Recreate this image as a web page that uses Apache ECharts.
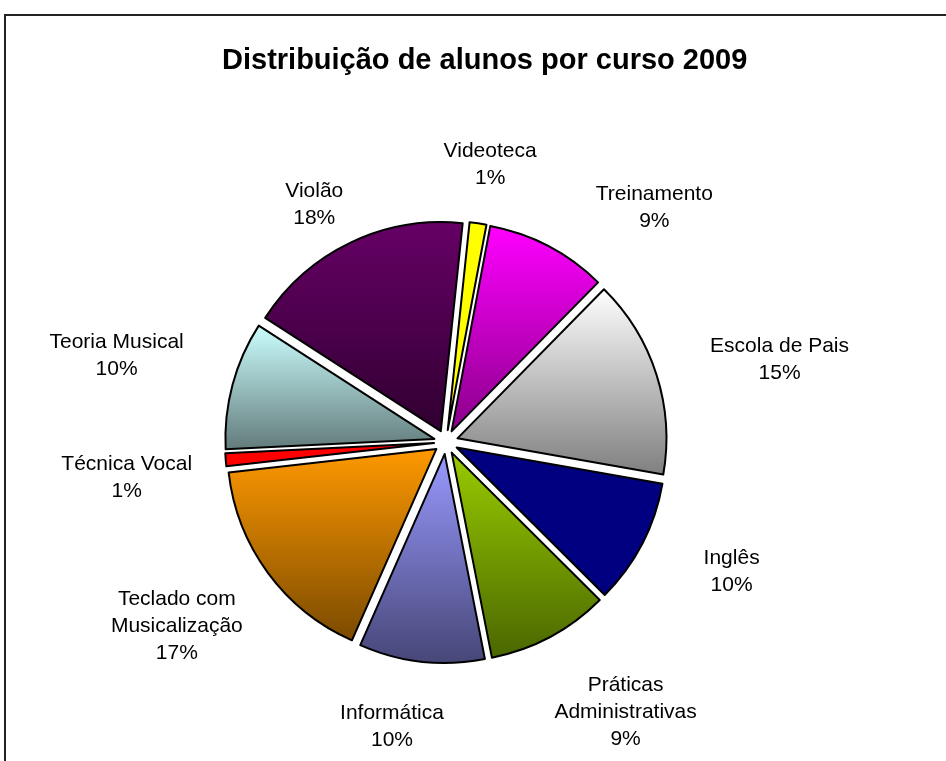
<!DOCTYPE html>
<html>
<head>
<meta charset="utf-8">
<script src="https://cdn.jsdelivr.net/npm/echarts@6/dist/echarts.min.js"></script>
<style>
html, body { margin: 0; padding: 0; background: #fff; }
#main { width: 946px; height: 761px; }
</style>
</head>
<body>
<div id="main"></div>
<script>
// cursos (ordem horária a partir do topo)
var cursos = ['Videoteca', 'Treinamento', 'Escola de Pais', 'Inglês', 'Práticas\nAdministrativas',
	'Informática', 'Teclado com\nMusicalização', 'Técnica Vocal', 'Teoria Musical', 'Violão'];
// participação (%)
var valores = [1.3, 9.4, 15.4, 9.7, 9.45, 9.7, 16.6, 1.0, 9.9, 17.55];
// cor de cima / cor de baixo do degradê
var corTopo = ['#ffff00', '#ff00ff', '#ffffff', '#000080', '#99cc00', '#9999ff', '#ff9900', '#ff0000', '#ccffff', '#660066'];
var corBase = ['#ffff00', '#8a008a', '#7f7f7f', '#000080', '#4a6600', '#464677', '#7a4a00', '#ff0000', '#627a7a', '#300030'];
// posição dos rótulos: [ângulo horário a partir do topo, distância ao centro]
var rotuloPos = [[9, 283], [42, 315], [76, 344], [114, 313], [146, 323],
	[191, 288], [236, 325], [264, 321], [285, 341], [331, 273]];

var centro = [446, 442];
var destaque = 12; // deslocamento das fatias destacadas
var mainChart = echarts.init(document.getElementById('main'));

var dados = cursos.map(function(nome, i) {
	var cor = {
		type: 'linear', x: 0, y: 0, x2: 0, y2: 1,
		colorStops: [{ offset: 0, color: corTopo[i] }, { offset: 1, color: corBase[i] }]
	};
	return {
		name: nome,
		value: valores[i],
		selected: true,
		itemStyle: { color: cor },
		select: { itemStyle: { color: cor } }
	};
});

mainChart.setOption({
	animation: false,
	backgroundColor: '#fff',
	title: {
		text: 'Distribuição de alunos por curso 2009',
		left: 217,
		top: 41,
		textStyle: {
			fontFamily: 'Liberation Sans, Arial, sans-serif',
			fontSize: 29,
			fontWeight: 'bold',
			color: '#000'
		}
	},
	graphic: [{
		type: 'polyline',
		shape: { points: [[5, 761], [5, 15], [946, 15]] },
		style: { stroke: '#222', lineWidth: 2, fill: null },
		silent: true
	}],
	series: [{
		type: 'pie',
		center: centro,
		radius: 209,
		startAngle: 84,
		clockwise: true,
		selectedMode: 'multiple',
		selectedOffset: destaque,
		avoidLabelOverlap: false,
		emphasis: { disabled: true },
		itemStyle: { borderColor: '#000', borderWidth: 2 },
		select: { itemStyle: { borderColor: '#000', borderWidth: 2 } },
		label: {
			show: true,
			position: 'outside',
			color: '#000',
			fontFamily: 'Liberation Sans, Arial, sans-serif',
			fontSize: 21,
			lineHeight: 27,
			formatter: function(p) {
				var linhas = p.name.split('\n');
				linhas.push(Math.round(p.percent) + '%');
				return linhas.map(function(l) { return '{t|' + l + '}'; }).join('\n');
			},
			rich: {
				t: {
					align: 'center',
					color: '#000',
					fontFamily: 'Liberation Sans, Arial, sans-serif',
					fontSize: 21,
					lineHeight: 27
				}
			}
		},
		labelLine: { show: false },
		labelLayout: function(p) {
			var pos = rotuloPos[p.dataIndex];
			var a = pos[0] * Math.PI / 180;
			var d = pos[1] - destaque;
			var r = p.labelRect;
			return {
				dx: centro[0] + d * Math.sin(a) - (r.x + r.width / 2),
				dy: centro[1] - d * Math.cos(a) - (r.y + r.height / 2) + 2
			};
		},
		data: dados
	}]
});
</script>
</body>
</html>
